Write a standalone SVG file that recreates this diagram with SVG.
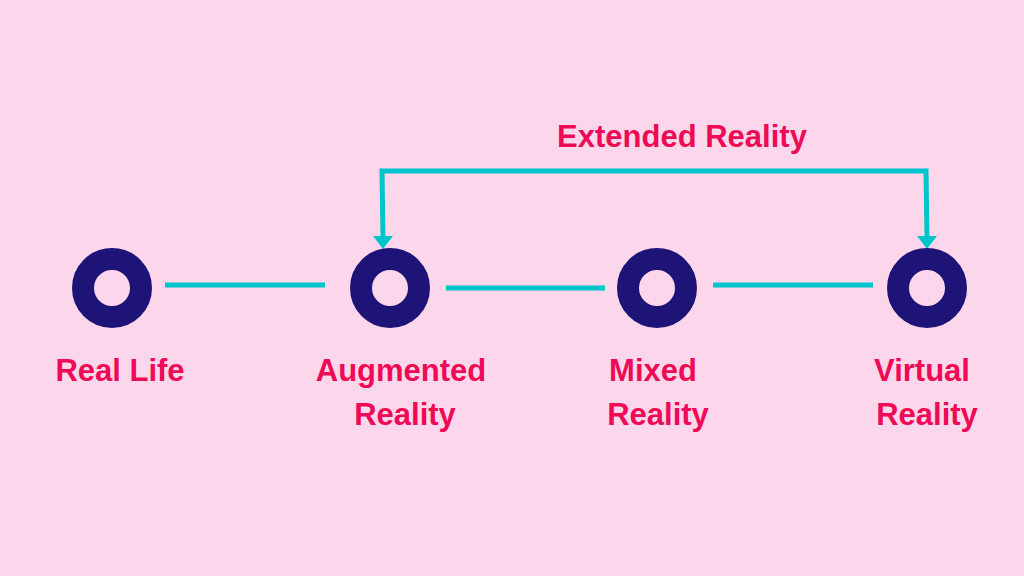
<svg xmlns="http://www.w3.org/2000/svg" width="1024" height="576" viewBox="0 0 1024 576">
<style>
.ring{fill:none;stroke:#1E1477;stroke-width:22}
.ln{stroke:#00C4CC;stroke-width:5;fill:none}
text{font-family:"Liberation Sans",Arial,sans-serif;font-weight:bold;font-size:31px;fill:#EE0A55;text-anchor:middle}
</style>
<defs><marker id="ah" viewBox="0 0 10 10" refX="5" refY="9" markerWidth="4" markerHeight="3.4" orient="auto" markerUnits="strokeWidth"><path d="M0,0 L10,0 L5,10 z" fill="#00C4CC" transform="rotate(-90 5 5)"/></marker></defs>
<rect width="1024" height="576" fill="#FCD7EC"/>
<g id="connectors">
<line class="ln" x1="165" y1="285" x2="325" y2="285"/>
<line class="ln" x1="446" y1="288" x2="605" y2="288"/>
<line class="ln" x1="713" y1="285" x2="873" y2="285"/>
<path class="ln" d="M383,238 L382,171 L926,171 L927,238"/>
<path d="M373,236 L393,236 L383,249 z" fill="#00C4CC"/>
<path d="M917,236 L937,236 L927,249 z" fill="#00C4CC"/>
</g>
<g id="n1"><circle class="ring" cx="112" cy="288" r="29"/><text x="120" y="381">Real Life</text></g>
<g id="n2"><circle class="ring" cx="390" cy="288" r="29"/><text x="401" y="381">Augmented</text><text x="405" y="425">Reality</text></g>
<g id="n3"><circle class="ring" cx="657" cy="288" r="29"/><text x="653" y="381">Mixed</text><text x="658" y="425">Reality</text></g>
<g id="n4"><circle class="ring" cx="927" cy="288" r="29"/><text x="922" y="381">Virtual</text><text x="927" y="425">Reality</text></g>
<g id="xr"><text x="682" y="147">Extended Reality</text></g>
</svg>
